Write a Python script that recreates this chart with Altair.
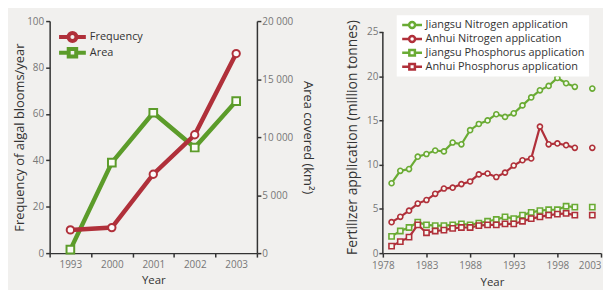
import altair as alt
import pandas as pd

# ---------------- Left panel: algal blooms ----------------
bloom_years = ["1993", "2000", "2001", "2002", "2003"]
bloom_frequency = [10, 11, 34, 51, 86]
bloom_area = [300, 7800, 12100, 9100, 13100]
bloom_series = ["Frequency", "Area"]
freq_ticks = [0, 20, 40, 60, 80, 100]
area_ticks = [0, 5000, 10000, 15000, 20000]

# ---------------- Right panel: fertilizer ----------------
fert_years = [1979, 1980, 1981, 1982, 1983, 1984, 1985, 1986, 1987, 1988, 1989,
              1990, 1991, 1992, 1993, 1994, 1995, 1996, 1997, 1998, 1999, 2000, 2002]
fert_segment = [0] * 22 + [1]
jiangsu_n = [7.9, 9.3, 9.5, 10.9, 11.2, 11.6, 11.5, 12.5, 12.3, 13.9, 14.6,
             15.0, 15.7, 15.4, 15.8, 16.7, 17.6, 18.4, 18.9, 19.8, 19.2, 18.8, 18.6]
anhui_n = [3.5, 4.1, 4.8, 5.6, 6.0, 6.7, 7.3, 7.4, 7.8, 8.1, 8.9,
           9.0, 8.6, 9.1, 9.9, 10.5, 10.7, 14.3, 12.3, 12.4, 12.2, 11.9, 11.9]
jiangsu_p = [1.9, 2.5, 2.9, 3.5, 3.2, 3.1, 3.1, 3.2, 3.3, 3.2, 3.4,
             3.6, 3.8, 4.1, 3.9, 4.3, 4.6, 4.8, 4.9, 4.9, 5.3, 5.2, 5.2]
anhui_p = [0.8, 1.3, 1.8, 3.2, 2.3, 2.5, 2.6, 2.8, 2.9, 2.9, 3.1,
           3.2, 3.2, 3.3, 3.3, 3.6, 3.9, 4.1, 4.3, 4.4, 4.5, 4.3, 4.3]
fert_series = ["Jiangsu Nitrogen application", "Anhui Nitrogen application",
               "Jiangsu Phosphorus application", "Anhui Phosphorus application"]
fert_year_ticks = [1978, 1983, 1988, 1993, 1998, 2003]
fert_value_ticks = [0, 5, 10, 15, 20, 25]
fert_value_top = 26.23  # room above the 25 tick (plot area starts above the axis end)

RED = "#b0303a"
GREEN = "#5c9c2a"
GREEN_R = "#6aab34"
AXIS = "#333"
FONT = "Open Sans"

# legend symbols: a line with a marker in the middle
PATH_LC = "M-1,0L-0.3,0M0.3,0L1,0M0.3,0A0.3,0.3,0,1,1,-0.3,0A0.3,0.3,0,1,1,0.3,0Z"
PATH_LS = "M-1,0L-0.28,0M0.28,0L1,0M-0.28,-0.28L0.28,-0.28L0.28,0.28L-0.28,0.28Z"

# ---------------- Left chart ----------------
left_df = pd.DataFrame({"Year": bloom_years, "Frequency": bloom_frequency, "Area": bloom_area})

xl = alt.X("Year:O", bandPosition=0.5,
           scale=alt.Scale(type="band", paddingInner=0, paddingOuter=0, domain=bloom_years),
           axis=alt.Axis(title="Year", labelAngle=0, tickBand="extent", labelPadding=3, titlePadding=5))
yf = alt.Y("Frequency:Q", scale=alt.Scale(domain=[freq_ticks[0], freq_ticks[-1]], nice=False),
           axis=alt.Axis(orient="left", values=freq_ticks,
                         title="Frequency of algal blooms/year", labelPadding=2,
                         titleX=-23, titleFontSize=13))
ya = alt.Y("Area:Q", scale=alt.Scale(domain=[area_ticks[0], area_ticks[-1]], nice=False),
           axis=alt.Axis(orient="right", values=area_ticks,
                         labelExpr="replace(format(datum.value, ','), ',', ' ')",
                         title="Area covered (km²)", labelPadding=1, titlePadding=8, titleFontSize=13))

area_line = alt.Chart(left_df).mark_line(color=GREEN, strokeWidth=4.5).encode(x=xl, y=ya)
area_pts = alt.Chart(left_df).mark_point(shape="square", filled=False, fill="#fbfbf6", stroke=GREEN,
                                         strokeWidth=2, size=60, opacity=1).encode(x=xl, y=ya)
freq_line = alt.Chart(left_df).mark_line(color=RED, strokeWidth=4.5).encode(x=xl, y=yf)
freq_pts = alt.Chart(left_df).mark_point(shape="circle", filled=False, fill="#fbfbfb", stroke=RED,
                                         strokeWidth=2, size=55, opacity=1).encode(x=xl, y=yf)

left_legend = alt.Legend(title=None, orient="none", legendX=7.5, legendY=9, symbolSize=729,
                         clipHeight=14, rowPadding=2, labelOffset=2, labelFontSize=11,
                         labelColor="#333", symbolStrokeWidth=4, padding=0)
leg_left = alt.Chart(pd.DataFrame({"Series": bloom_series})).transform_filter("false").mark_point(
    filled=False, strokeWidth=4, opacity=1).encode(
    color=alt.Color("Series:N", scale=alt.Scale(domain=bloom_series, range=[RED, GREEN]), legend=left_legend),
    shape=alt.Shape("Series:N", scale=alt.Scale(domain=bloom_series, range=[PATH_LC, PATH_LS]), legend=left_legend),
)

left = alt.layer(
    alt.layer(area_line, area_pts),
    alt.layer(freq_line, freq_pts, leg_left),
).resolve_scale(y="independent").properties(width=209, height=234)

# ---------------- Right chart ----------------
rows = []
for name, vals in zip(fert_series, [jiangsu_n, anhui_n, jiangsu_p, anhui_p]):
    for yr, seg, v in zip(fert_years, fert_segment, vals):
        rows.append({"Year": yr, "Segment": seg, "Series": name, "Value": v})
right_df = pd.DataFrame(rows)

last_year_test = "datum.value == " + str(fert_year_ticks[-1])
xr = alt.X("Year:Q", scale=alt.Scale(domain=[fert_year_ticks[0], fert_year_ticks[-1]], nice=False, zero=False),
           axis=alt.Axis(values=fert_year_ticks, format="d", title="Year",
                         labelPadding=4, titlePadding=6, labelFlush=False,
                         labelAlign={"condition": {"test": last_year_test, "value": "right"}, "value": "center"}))
yr_ = alt.Y("Value:Q", scale=alt.Scale(domain=[0, fert_value_top], nice=False),
            axis=alt.Axis(values=fert_value_ticks, title="Fertilizer application (million tonnes)",
                          labelPadding=1, titlePadding=7, titleFontSize=14, domain=False))
cscale = alt.Scale(domain=fert_series, range=[GREEN_R, RED, GREEN_R, RED])

# y-axis line from the first to the last tick
axis_df = pd.DataFrame({"x": [fert_year_ticks[0]], "y0": [fert_value_ticks[0]], "y1": [fert_value_ticks[-1]]})
r_axis = alt.Chart(axis_df).mark_rule(color=AXIS, strokeWidth=1.5).encode(
    x=alt.X("x:Q"), y=alt.Y("y0:Q"), y2="y1:Q")

r_lines = alt.Chart(right_df).mark_line(strokeWidth=2.2).encode(
    x=xr, y=yr_, color=alt.Color("Series:N", scale=cscale, legend=None), detail="Segment:N")
r_npts = alt.Chart(right_df).transform_filter("indexof(datum.Series, 'Nitrogen') >= 0").mark_point(
    shape="circle", filled=False, fill="#f6f9f0", strokeWidth=1.6, size=26, opacity=1).encode(
    x=xr, y=yr_, color=alt.Color("Series:N", scale=cscale, legend=None))
r_ppts = alt.Chart(right_df).transform_filter("indexof(datum.Series, 'Phosphorus') >= 0").mark_point(
    shape="square", filled=False, fill="#f6f9f0", strokeWidth=1.6, size=28, opacity=1).encode(
    x=xr, y=yr_, color=alt.Color("Series:N", scale=cscale, legend=None))

right_legend = alt.Legend(title=None, orient="none", legendX=14, legendY=-6, symbolSize=400,
                          clipHeight=12, rowPadding=2, labelOffset=2, labelFontSize=11,
                          labelColor="#333", symbolStrokeWidth=2.5, padding=4, fillColor="white",
                          labelLimit=300)
leg_right = alt.Chart(pd.DataFrame({"Series": fert_series})).transform_filter("false").mark_point(
    filled=False, strokeWidth=2.5, opacity=1).encode(
    color=alt.Color("Series:N", scale=cscale, legend=right_legend),
    shape=alt.Shape("Series:N", scale=alt.Scale(domain=fert_series, range=[PATH_LC, PATH_LC, PATH_LS, PATH_LS]),
                    legend=right_legend),
)

right = alt.layer(r_lines, r_npts, r_ppts, r_axis, leg_right).resolve_scale(
    color="independent", shape="independent").properties(width=220, height=234)

chart = alt.hconcat(left, right, spacing=31).resolve_scale(
    color="independent", shape="independent").resolve_legend(color="independent", shape="independent")

chart = chart.configure(
    background="#f1f0ee", padding={"left": 5, "top": 5, "right": 0, "bottom": 0}, font=FONT
).configure_view(fill="#f9f9f8", stroke="transparent").configure_axis(
    domainColor=AXIS, domainWidth=1.5, tickColor=AXIS, tickWidth=1.5, tickSize=4,
    labelColor="#777", labelFontSize=10, labelFont=FONT, titleColor="#333", titleFontSize=11.5,
    titleFontWeight="normal", titleFont=FONT, grid=False
).configure_legend(labelFont=FONT)

chart.save("out.html", embed_options={"renderer": "svg", "actions": False})
